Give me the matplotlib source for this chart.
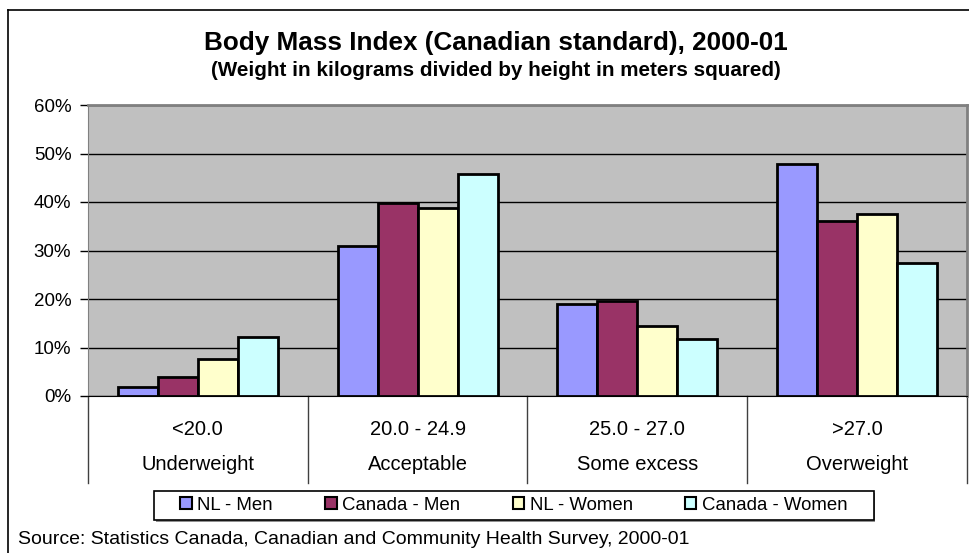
import numpy as np
import matplotlib.pyplot as plt
from matplotlib.lines import Line2D
from matplotlib.patches import Patch, Rectangle
from matplotlib.ticker import PercentFormatter

plt.rcParams['font.family'] = ['Liberation Sans', 'DejaVu Sans']

ranges = ['<20.0', '20.0 - 24.9', '25.0 - 27.0', '>27.0']
groups = ['Underweight', 'Acceptable', 'Some excess', 'Overweight']
series = ['NL - Men', 'Canada - Men', 'NL - Women', 'Canada - Women']
nl_men = [1.9, 31.0, 18.9, 47.8]
canada_men = [4.0, 39.8, 19.6, 36.0]
nl_women = [7.6, 38.8, 14.4, 37.5]
canada_women = [12.2, 45.8, 11.7, 27.5]
colors = ['#9999FF', '#993366', '#FFFFCC', '#CCFFFF']

W, H = 970, 553
fig = plt.figure(figsize=(W / 100, H / 100), dpi=100)

# outer chart frame (only top and left edges are visible in the crop)
fig.add_artist(Line2D([8 / W, 8 / W], [0, 1 - 10 / H], transform=fig.transFigure, color='black', lw=1.2))
fig.add_artist(Line2D([8 / W, 1], [1 - 10 / H, 1 - 10 / H], transform=fig.transFigure, color='black', lw=1.2))

ax = fig.add_axes([88 / W, 1 - 396 / H, (967 - 88) / W, (396 - 105) / H])
ax.set_facecolor('#C0C0C0')

x = np.arange(len(groups))
width = 1 / 5.5
for i, (vals, name) in enumerate(zip([nl_men, canada_men, nl_women, canada_women], series)):
    ax.bar(x + (i - 1.5) * width, vals, width, color=colors[i], edgecolor='black',
           linewidth=2, label=name, zorder=3)

ax.set_xlim(-0.5, len(groups) - 0.5)
ax.set_ylim(0, 60)
ax.set_yticks(range(0, 61, 10))
ax.yaxis.set_major_formatter(PercentFormatter(decimals=0))
ax.grid(axis='y', color='black', linewidth=1, zorder=1)
ax.tick_params(axis='y', direction='out', length=6, width=1, labelsize=13.5, pad=6)
ax.tick_params(axis='x', length=0, labelbottom=False)
for side in ['top', 'right']:
    ax.spines[side].set_color('#808080')
    ax.spines[side].set_linewidth(2)
ax.spines['left'].set_color('#808080')
ax.spines['bottom'].set_color('black')

# two-level category axis
px = 60 / 291
for b in np.arange(len(groups) + 1) - 0.5:
    ax.plot([b, b], [0, -87 * px], color='#404040', lw=1, clip_on=False)
for xi, r, g in zip(x, ranges, groups):
    ax.text(xi, -39 * px, r, ha='center', va='baseline', fontsize=14.5)
    ax.text(xi, -74 * px, g, ha='center', va='baseline', fontsize=14.5)

fig.text(496 / W, 1 - 50 / H, 'Body Mass Index (Canadian standard), 2000-01',
         ha='center', va='baseline', fontsize=18.8, fontweight='bold')
fig.text(496 / W, 1 - 76 / H, '(Weight in kilograms divided by height in meters squared)',
         ha='center', va='baseline', fontsize=14.9, fontweight='bold')

# legend: entries centred in a hand-drawn box
fig.add_artist(Rectangle((155.5 / W, 1 - 521.5 / H), 720 / W, 29 / H, transform=fig.transFigure,
                         facecolor='#909090', edgecolor='none', zorder=4))
fig.add_artist(Rectangle((154 / W, 1 - 520 / H), 720 / W, 29 / H, transform=fig.transFigure,
                         facecolor='white', edgecolor='black', lw=1.2, zorder=5))
handles = [Patch(facecolor=c, edgecolor='black', linewidth=1.5) for c in colors]
leg = fig.legend(handles, series, loc='center', bbox_to_anchor=(514 / W, 1 - 505.5 / H),
                 ncol=4, fontsize=13.4, frameon=False, borderpad=0.2,
                 handlelength=0.62, handleheight=0.62, handletextpad=0.3, columnspacing=2.8)
leg.set_zorder(6)

fig.text(18 / W, 1 - 540 / H, 'Source: Statistics Canada, Canadian and Community Health Survey, 2000-01',
         ha='left', va='center', fontsize=14)

fig.savefig('out.png', dpi=100)
